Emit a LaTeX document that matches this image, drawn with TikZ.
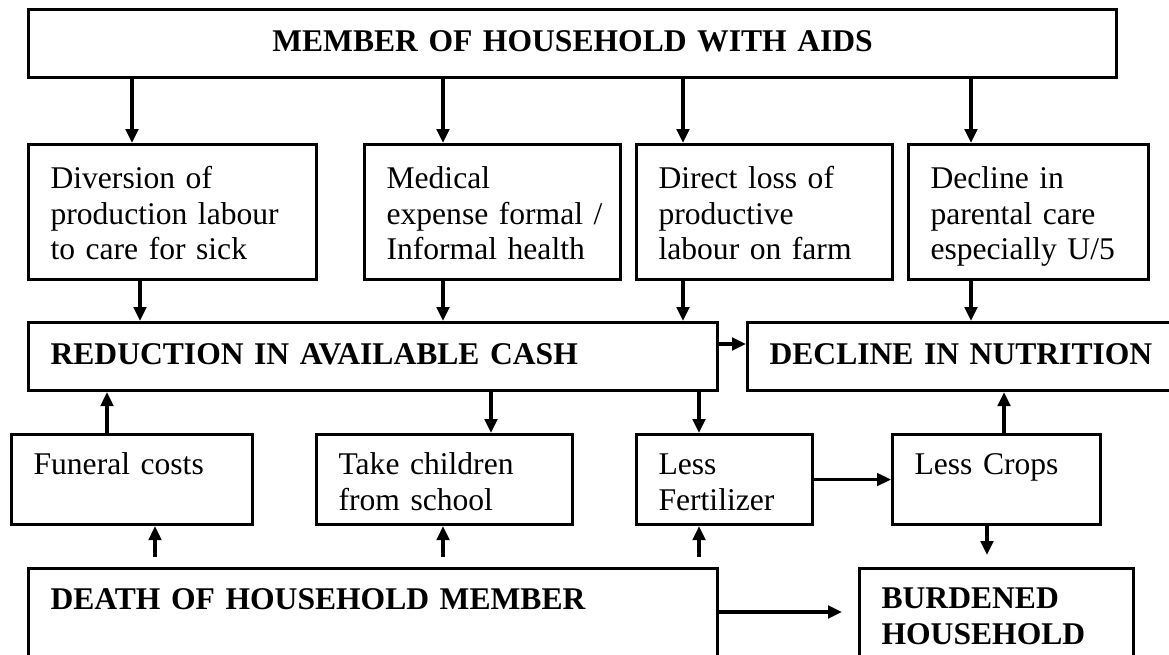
\documentclass[tikz,border=0pt]{standalone}
\usepackage{fontspec}
\setmainfont{Liberation Serif}
\usetikzlibrary{arrows.meta}
\begin{document}
\begin{tikzpicture}[x=1pt,y=-1pt,
  box/.style={draw, line width=3.1pt, inner xsep=22pt, inner ysep=0pt,
    anchor=north west, align=left, font=\fontsize{31.6}{35.5}\selectfont},
  bbox/.style={box, font=\fontsize{31.6}{35.5}\selectfont\bfseries},
  arr/.style={line width=3.4pt, -{Triangle[length=14pt,width=12.5pt]}}]
\useasboundingbox (0,0) rectangle (1169,654);
\clip (0,0) rectangle (1169,654);
\fill[white] (0,0) rectangle (1169,654);
% row 1
\node[bbox, align=center, text width=1044pt, text height=42pt, text depth=26pt] (top) at (27,8) {MEMBER OF HOUSEHOLD WITH AIDS};
% row 2
\node[box, text width=244pt, text height=44pt, text depth=91pt] (A) at (27,143) {Diversion of\\production labour\\to care for sick};
\node[box, text width=212pt, text height=44pt, text depth=91pt] (B) at (363,143) {Medical\\\mbox{expense formal /}\\Informal health};
\node[box, text width=212pt, text height=44pt, text depth=91pt] (C) at (635,143) {Direct loss of\\productive\\labour on farm};
\node[box, text width=196pt, text height=44pt, text depth=91pt] (D) at (907,143) {Decline in\\parental care\\especially U/5};
% row 3
\node[bbox, text width=645pt, text height=42pt, text depth=26pt] (red) at (27,321) {REDUCTION IN AVAILABLE CASH};
\node[bbox, text width=456pt, text height=42pt, text depth=26pt] (dec) at (746,321) {DECLINE IN NUTRITION};
% row 4
\node[box, text width=197pt, text height=40pt, text depth=50pt] (fun) at (10,433) {Funeral costs};
\node[box, text width=212pt, text height=40pt, text depth=50pt] (take) at (315,433) {Take children\\from school};
\node[box, text width=132pt, text height=40pt, text depth=50pt] (fert) at (635,433) {Less\\Fertilizer};
\node[box, text width=164pt, text height=40pt, text depth=50pt] (crops) at (891,433) {Less Crops};
% row 5
\node[bbox, text width=645pt, text height=41pt, text depth=92pt] (death) at (27,567) {DEATH OF HOUSEHOLD MEMBER};
\node[bbox, text width=230pt, text height=40pt, text depth=93pt] (burd) at (858,567) {BURDENED\\HOUSEHOLD};
% helper coordinates
\coordinate (c107) at (107,0);
\coordinate (c132) at (132,0);
\coordinate (c140) at (140,0);
\coordinate (c155) at (155,0);
\coordinate (c443) at (443,0);
\coordinate (c491) at (491,0);
\coordinate (c683) at (683,0);
\coordinate (c699) at (699,0);
\coordinate (c971) at (971,0);
\coordinate (c987) at (987,0);
\coordinate (c1004) at (1004,0);
\coordinate (r344) at (0,344);
\coordinate (r612) at (0,612);
% arrows row1 -> row2
\draw[arr] (top.south -| c132) -- (A.north -| c132);
\draw[arr] (top.south -| c443) -- (B.north -| c443);
\draw[arr] (top.south -| c683) -- (C.north -| c683);
\draw[arr] (top.south -| c971) -- (D.north -| c971);
% row2 -> row3
\draw[arr] (A.south -| c140) -- (red.north -| c140);
\draw[arr] (B.south -| c443) -- (red.north -| c443);
\draw[arr] (C.south -| c683) -- (red.north -| c683);
\draw[arr] (D.south -| c971) -- (dec.north -| c971);
\draw[arr] (red.east |- r344) -- (dec.west |- r344);
% row3 <-> row4
\draw[arr] (fun.north -| c107) -- (red.south -| c107);
\draw[arr] (red.south -| c491) -- (take.north -| c491);
\draw[arr] (red.south -| c699) -- (fert.north -| c699);
\draw[arr] (crops.north -| c1004) -- (dec.south -| c1004);
\draw[arr] (fert.east) -- (crops.west);
% row4 <-> row5
\draw[arr, shorten <=10pt] (death.north -| c155) -- (fun.south -| c155);
\draw[arr, shorten <=10pt] (death.north -| c443) -- (take.south -| c443);
\draw[arr, shorten <=10pt] (death.north -| c699) -- (fert.south -| c699);
\draw[arr, shorten >=12pt] (crops.south -| c987) -- (burd.north -| c987);
\draw[arr, shorten >=16pt] (death.east |- r612) -- (burd.west |- r612);
\end{tikzpicture}
\end{document}
